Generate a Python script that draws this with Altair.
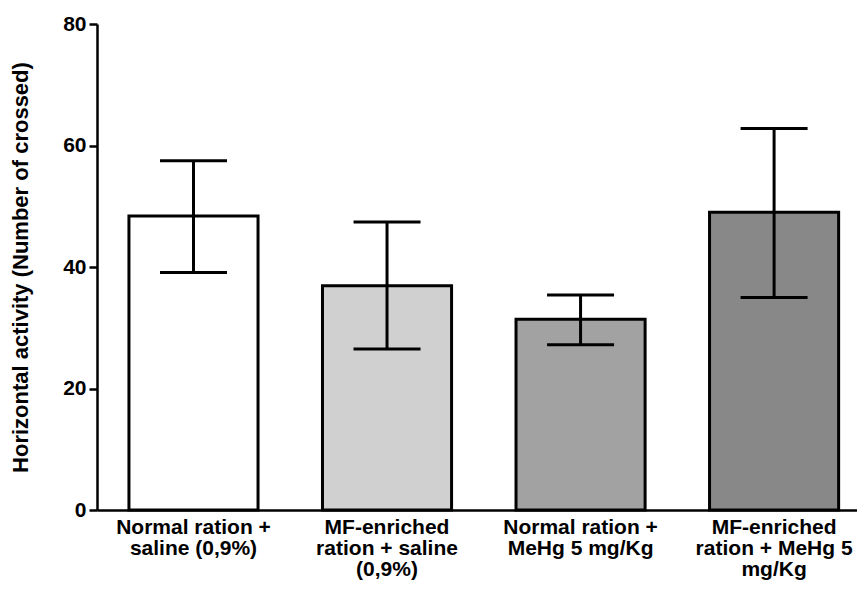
import altair as alt
import pandas as pd

groups = [
    "Normal ration +|saline (0,9%)",
    "MF-enriched|ration + saline|(0,9%)",
    "Normal ration +|MeHg 5 mg/Kg",
    "MF-enriched|ration + MeHg 5|mg/Kg",
]
means = [48.4, 36.9, 31.4, 49.0]
upper = [57.5, 47.4, 35.4, 62.8]
lower = [39.1, 26.5, 27.2, 35.0]
fills = ["#ffffff", "#d0d0d0", "#a2a2a2", "#888888"]

df = pd.DataFrame({"group": groups, "mean": means, "hi": upper, "lo": lower, "fill": fills})

FONT = "Liberation Sans"

x = alt.X(
    "group:N",
    sort=groups,
    title=None,
    scale=alt.Scale(paddingInner=0.333, paddingOuter=0.13, align=0.635),
    axis=alt.Axis(
        labelExpr="split(datum.label, '|')",
        labelAngle=0,
        labelFont=FONT,
        labelFontSize=21,
        labelFontWeight="bold",
        labelLineHeight=21,
        labelColor="black",
        labelPadding=6,
        labelBaseline="top",
        ticks=False,
        domainColor="black",
        domainWidth=2.5,
        labelLimit=400,
    ),
)

y_scale = alt.Scale(domain=[0, 80], nice=False)
y_axis = alt.Axis(
    values=[0, 20, 40, 60, 80],
    title="Horizontal activity (Number of crossed)",
    titleFont=FONT,
    titleFontSize=22,
    titleFontWeight="bold",
    titleColor="black",
    titlePadding=30,
    labelFont=FONT,
    labelFontSize=21,
    labelFontWeight="bold",
    labelColor="black",
    labelPadding=3,
    tickSize=8,
    tickWidth=2.5,
    tickColor="black",
    domainColor="black",
    domainWidth=2.5,
    grid=False,
)

bars = alt.Chart(df).mark_bar(stroke="black", strokeWidth=3).encode(
    x=x,
    y=alt.Y("mean:Q", scale=y_scale, axis=y_axis),
    fill=alt.Fill("fill:N", scale=None),
)

rule = alt.Chart(df).mark_rule(color="black", strokeWidth=3).encode(
    x=alt.X("group:N", sort=groups),
    y="lo:Q",
    y2="hi:Q",
)

cap_hi = alt.Chart(df).mark_tick(color="black", thickness=3, size=67, opacity=1).encode(
    x=alt.X("group:N", sort=groups),
    y="hi:Q",
)
cap_lo = alt.Chart(df).mark_tick(color="black", thickness=3, size=67, opacity=1).encode(
    x=alt.X("group:N", sort=groups),
    y="lo:Q",
)

chart = (
    alt.layer(bars, rule, cap_hi, cap_lo)
    .properties(
        width=760,
        height=486,
        autosize=alt.AutoSizeParams(type="none"),
        padding={"left": 89, "top": 16, "right": 0, "bottom": 74},
    )
    .configure_view(stroke=None)
)

chart.save("out.html", embed_options={"renderer": "svg", "actions": False})
